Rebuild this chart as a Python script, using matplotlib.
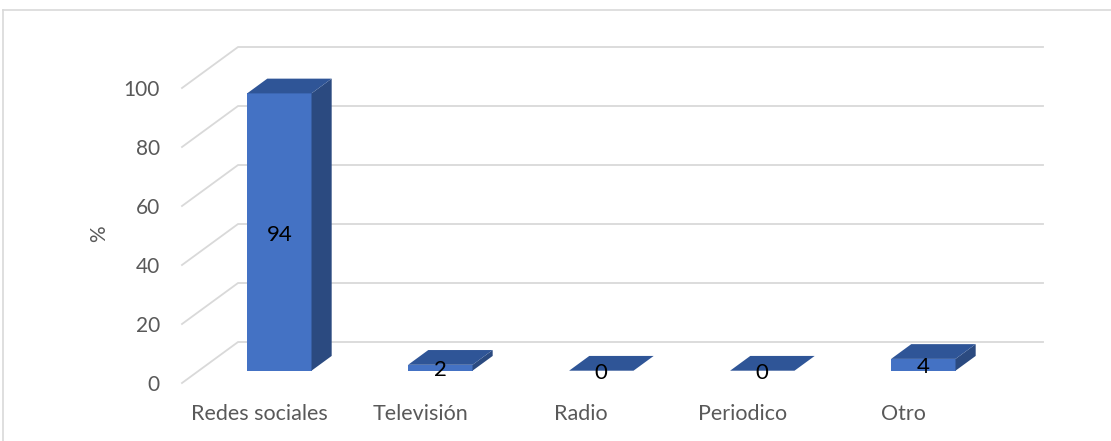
import matplotlib.pyplot as plt
from matplotlib.patches import Polygon
from matplotlib.lines import Line2D

categories = ["Redes sociales", "Televisión", "Radio", "Periodico", "Otro"]
values = [94, 2, 0, 0, 4]
yticks = [0, 20, 40, 60, 80, 100]

# oblique projection: full floor depth shifts right and up
DX = 0.348
DY = 13.9
Z0, Z1 = 0.30, 0.66
WIDTH = 0.40

FRONT = "#4472C4"
TOP = "#2F5597"
SIDE = "#2B4A80"
GRID = "#D9D9D9"
TEXT = "#595959"

plt.rcParams["font.family"] = ["Lato", "DejaVu Sans"]


def proj(x, v, z):
    return (x + z * DX, v + z * DY)


fig = plt.figure(figsize=(11.11, 4.41), dpi=100)
ax = fig.add_axes([0, 0, 1, 1])
ax.set_xlim(-182 / 161, (1111 - 182) / 161)
ax.set_ylim((383 - 441) / 2.95, 383 / 2.95)
ax.axis("off")

# outer chart border
fig.add_artist(Line2D([3 / 1111, 3 / 1111], [0, 1 - 10 / 441],
                      transform=fig.transFigure, color=GRID, lw=1.2))
fig.add_artist(Line2D([3 / 1111, 1], [1 - 10 / 441, 1 - 10 / 441],
                      transform=fig.transFigure, color=GRID, lw=1.2))

# gridlines on side wall and back wall
n = len(categories)
for v in yticks:
    pts = [proj(0, v, 0), proj(0, v, 1), proj(n, v, 1)]
    ax.plot([p[0] for p in pts], [p[1] for p in pts], color=GRID, lw=1.3, zorder=1)
    ax.text(-22 / 161, v - 0.6, str(v), ha="right", va="center", fontsize=15, color=TEXT)

ax.text(-83 / 161, 50.5, "%", rotation=90, ha="center", va="center",
        fontsize=15, color=TEXT)

for i, (cat, val) in enumerate(zip(categories, values)):
    x0 = i + (1 - WIDTH) / 2
    x1 = x0 + WIDTH
    front = [proj(x0, 0, Z0), proj(x1, 0, Z0), proj(x1, val, Z0), proj(x0, val, Z0)]
    side = [proj(x1, 0, Z0), proj(x1, 0, Z1), proj(x1, val, Z1), proj(x1, val, Z0)]
    top = [proj(x0, val, Z0), proj(x1, val, Z0), proj(x1, val, Z1), proj(x0, val, Z1)]
    if val > 0:
        ax.add_patch(Polygon(front, closed=True, fc=FRONT, ec="none", zorder=3))
        ax.add_patch(Polygon(side, closed=True, fc=SIDE, ec="none", zorder=3))
    ax.add_patch(Polygon(top, closed=True, fc=TOP, ec="none", zorder=3))

    cx, cy = proj((x0 + x1) / 2, val / 2, Z0)
    ax.text(cx, cy - 0.9, str(val), ha="center", va="center",
            fontsize=16, color="black", zorder=4)

    ax.text(i + 0.48, -10.5, cat, ha="center", va="center", fontsize=15.5, color=TEXT)

fig.savefig("out.png", dpi=100)
